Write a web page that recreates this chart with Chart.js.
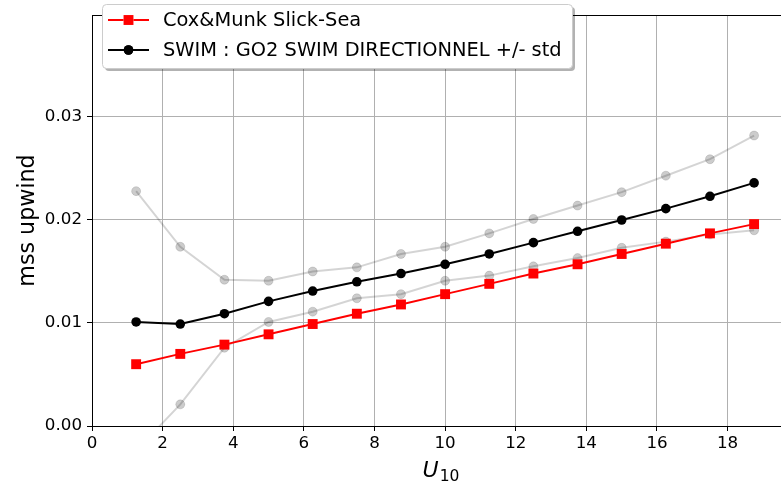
<!DOCTYPE html>
<html>
<head>
<meta charset="utf-8">
<script src="https://cdn.jsdelivr.net/npm/chart.js@4.4.1/dist/chart.umd.min.js"></script>
<style>
  html, body { margin: 0; padding: 0; background: #ffffff; overflow: hidden; }
  #wrap { width: 781px; height: 485px; position: relative; overflow: hidden; }
</style>
</head>
<body>
<div id="wrap"><canvas id="chart" width="785" height="485"></canvas></div>
<script>
// Wind speed bins (m/s)
const windSpeed = [1.25, 2.5, 3.75, 5, 6.25, 7.5, 8.75, 10, 11.25, 12.5, 13.75, 15, 16.25, 17.5, 18.75];

// Cox & Munk slick-sea upwind mean square slope
const coxMunkSlick = [0.0060, 0.0070, 0.0079, 0.0089, 0.0099, 0.0109, 0.0118, 0.0128, 0.0138, 0.0148, 0.0157, 0.0167, 0.0177, 0.0187, 0.0196];

// SWIM directional mss: mean, and mean +/- one standard deviation
const swimMean  = [0.0101, 0.0099, 0.0109, 0.0121, 0.0131, 0.0140, 0.0148, 0.0157, 0.0167, 0.0178, 0.0189, 0.0200, 0.0211, 0.0223, 0.0236];
const swimUpper = [0.0228, 0.0174, 0.0142, 0.0141, 0.0150, 0.0154, 0.0167, 0.0174, 0.0187, 0.0201, 0.0214, 0.0227, 0.0243, 0.0259, 0.0282];
const swimLower = [-0.0024, 0.0021, 0.0076, 0.0101, 0.0111, 0.0124, 0.0128, 0.0141, 0.0146, 0.0155, 0.0163, 0.0173, 0.0179, 0.0186, 0.0190];

// Axis ticks
const xTicks = [0, 2, 4, 6, 8, 10, 12, 14, 16, 18];
const yTicks = [0, 0.01, 0.02, 0.03];

const FONT = '"DejaVu Sans", "Liberation Sans", sans-serif';

function pairs(xs, ys) {
  return xs.map((x, i) => ({ x: x, y: ys[i] }));
}

function roundRect(ctx, x, y, w, h, r) {
  ctx.beginPath();
  ctx.moveTo(x + r, y);
  ctx.lineTo(x + w - r, y);
  ctx.arcTo(x + w, y, x + w, y + r, r);
  ctx.lineTo(x + w, y + h - r);
  ctx.arcTo(x + w, y + h, x + w - r, y + h, r);
  ctx.lineTo(x + r, y + h);
  ctx.arcTo(x, y + h, x, y + h - r, r);
  ctx.lineTo(x, y + r);
  ctx.arcTo(x, y, x + r, y, r);
  ctx.closePath();
}

// Top spine, x-axis label with subscript, and the framed legend
const decorations = {
  id: 'decorations',
  afterDraw(chart) {
    const ctx = chart.ctx;
    const a = chart.chartArea;
    ctx.save();

    // top spine
    ctx.strokeStyle = '#000000';
    ctx.lineWidth = 1;
    ctx.beginPath();
    ctx.moveTo(a.left, Math.round(a.top) + 0.5);
    ctx.lineTo(a.right, Math.round(a.top) + 0.5);
    ctx.stroke();

    // x-axis label: italic U with subscript 10
    const mainFont = 'italic 22px ' + FONT;
    const subFont = '15.5px ' + FONT;
    ctx.fillStyle = '#000000';
    ctx.textBaseline = 'alphabetic';
    ctx.textAlign = 'left';
    ctx.font = mainFont;
    const wU = ctx.measureText('U').width;
    ctx.font = subFont;
    const wSub = ctx.measureText('10').width;
    const cx = 441;
    const x0 = cx - (wU + wSub + 1) / 2;
    ctx.font = mainFont;
    ctx.fillText('U', x0, 477);
    ctx.font = subFont;
    ctx.fillText('10', x0 + wU + 1, 481);

    // legend frame with shadow
    const bx = 102.5, by = 4.5, bw = 470, bh = 64;
    ctx.fillStyle = 'rgba(0,0,0,0.3)';
    roundRect(ctx, bx + 2.5, by + 2.5, bw, bh, 4);
    ctx.fill();
    ctx.fillStyle = '#ffffff';
    roundRect(ctx, bx, by, bw, bh, 4);
    ctx.fill();
    ctx.strokeStyle = '#cccccc';
    ctx.lineWidth = 1;
    ctx.stroke();

    // legend entries (first two datasets)
    const rows = [20, 50];
    chart.data.datasets.slice(0, 2).forEach((ds, i) => {
      const y = rows[i];
      ctx.strokeStyle = ds.borderColor;
      ctx.lineWidth = ds.borderWidth;
      ctx.beginPath();
      ctx.moveTo(108, y);
      ctx.lineTo(149, y);
      ctx.stroke();
      Chart.helpers.drawPoint(ctx, {
        pointStyle: ds.pointStyle,
        radius: ds.pointRadius,
        borderWidth: 0,
        rotation: 0
      }, 128.5, y);
      ctx.fillStyle = ds.pointBackgroundColor;
      ctx.fill();
      ctx.fillStyle = '#000000';
      ctx.font = '19.4px ' + FONT;
      ctx.textBaseline = 'middle';
      ctx.textAlign = 'left';
      ctx.fillText(ds.label, 163, y + 1);
    });

    ctx.restore();
  }
};

const gridStyle = {
  color: '#b0b0b0',
  lineWidth: 1,
  drawTicks: true,
  tickLength: 5,
  tickColor: '#000000',
  tickWidth: 1
};

new Chart(document.getElementById('chart'), {
  type: 'scatter',
  data: {
    datasets: [
      {
        label: 'Cox&Munk Slick-Sea',
        data: pairs(windSpeed, coxMunkSlick),
        showLine: true,
        borderColor: '#ff0000',
        backgroundColor: '#ff0000',
        pointBackgroundColor: '#ff0000',
        pointBorderColor: '#ff0000',
        borderWidth: 2,
        pointStyle: 'rect',
        pointRadius: 7,
        pointBorderWidth: 0,
        pointHoverRadius: 7
      },
      {
        label: 'SWIM : GO2 SWIM DIRECTIONNEL +/- std',
        data: pairs(windSpeed, swimMean),
        showLine: true,
        borderColor: '#000000',
        backgroundColor: '#000000',
        pointBackgroundColor: '#000000',
        pointBorderColor: '#000000',
        borderWidth: 2,
        pointStyle: 'circle',
        pointRadius: 4.8,
        pointBorderWidth: 0,
        pointHoverRadius: 4.8
      },
      {
        label: 'mean + std',
        data: pairs(windSpeed, swimUpper),
        showLine: true,
        borderColor: 'rgba(0,0,0,0.17)',
        pointBackgroundColor: 'rgba(0,0,0,0.2)',
        pointBorderColor: 'rgba(0,0,0,0.12)',
        borderWidth: 2,
        pointStyle: 'circle',
        pointRadius: 4.5,
        pointBorderWidth: 1,
        pointHoverRadius: 4.5
      },
      {
        label: 'mean - std',
        data: pairs(windSpeed, swimLower),
        showLine: true,
        borderColor: 'rgba(0,0,0,0.17)',
        pointBackgroundColor: 'rgba(0,0,0,0.2)',
        pointBorderColor: 'rgba(0,0,0,0.12)',
        borderWidth: 2,
        pointStyle: 'circle',
        pointRadius: 4.5,
        pointBorderWidth: 1,
        pointHoverRadius: 4.5
      }
    ]
  },
  options: {
    responsive: false,
    animation: false,
    devicePixelRatio: 1,
    layout: { autoPadding: false, padding: { top: 15, left: 0, right: 0, bottom: 0 } },
    plugins: {
      legend: { display: false },
      tooltip: { enabled: false }
    },
    scales: {
      x: {
        type: 'linear',
        min: 0,
        max: 19.625,
        afterBuildTicks: (scale) => { scale.ticks = xTicks.map(v => ({ value: v })); },
        afterFit: (scale) => {
          scale.height = 59;
          scale.paddingLeft = 0;
          scale.paddingRight = 0;
        },
        grid: gridStyle,
        border: { color: '#000000', width: 1 },
        ticks: {
          color: '#000000',
          font: { family: FONT, size: 16.7 },
          padding: 3,
          maxRotation: 0,
          callback: (v) => String(v)
        }
      },
      y: {
        type: 'linear',
        min: 0,
        max: 0.0399,
        afterBuildTicks: (scale) => { scale.ticks = yTicks.map(v => ({ value: v })); },
        afterFit: (scale) => {
          scale.width = 92;
          scale.paddingTop = 0;
          scale.paddingBottom = 0;
        },
        grid: gridStyle,
        border: { color: '#000000', width: 1 },
        ticks: {
          color: '#000000',
          font: { family: FONT, size: 16.7 },
          padding: 5,
          callback: (v) => v.toFixed(2)
        },
        title: {
          display: true,
          text: 'mss upwind',
          color: '#000000',
          font: { family: FONT, size: 22.2 },
          padding: { top: 15, bottom: 0 }
        }
      }
    }
  },
  plugins: [decorations]
});
</script>
</body>
</html>
